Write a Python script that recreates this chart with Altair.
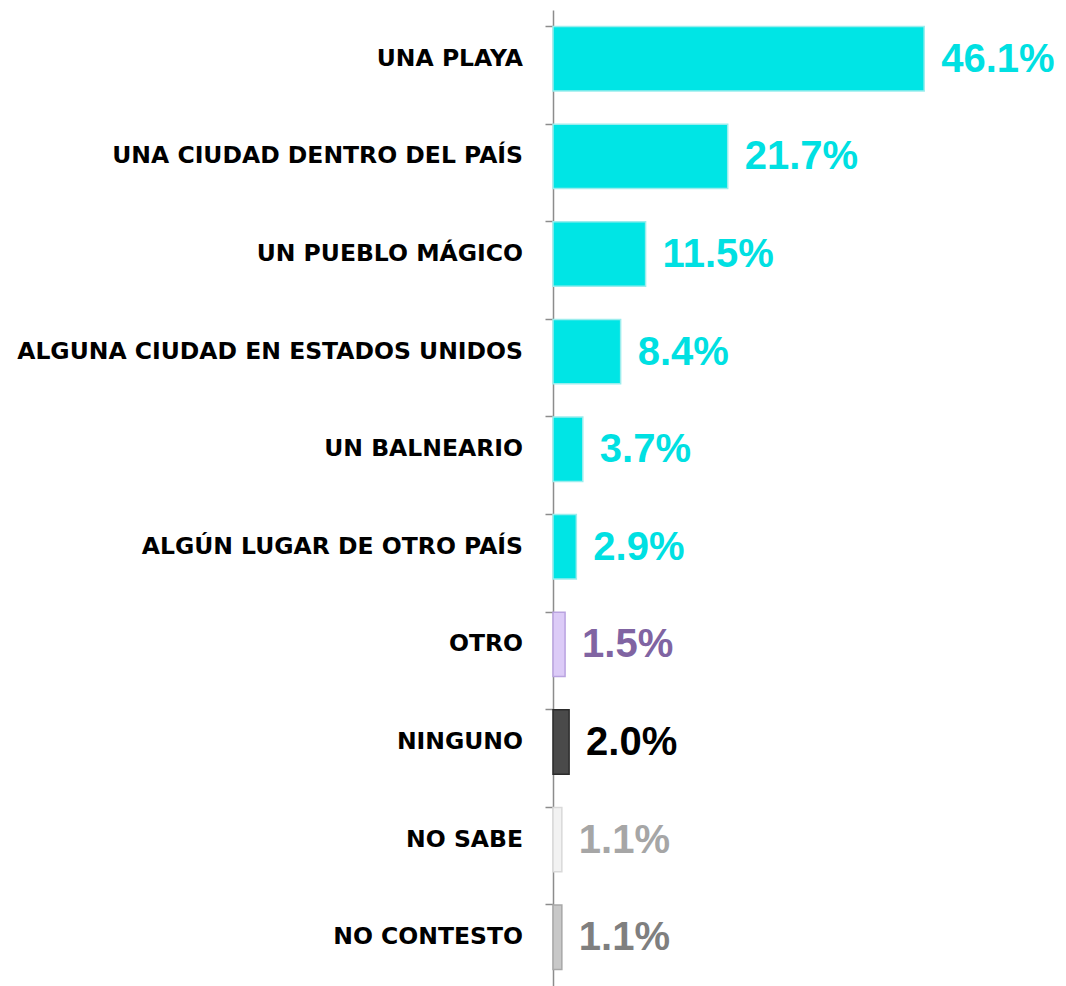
import altair as alt
import pandas as pd

categories = [
    "UNA PLAYA",
    "UNA CIUDAD DENTRO DEL PAÍS",
    "UN PUEBLO MÁGICO",
    "ALGUNA CIUDAD EN ESTADOS UNIDOS",
    "UN BALNEARIO",
    "ALGÚN LUGAR DE OTRO PAÍS",
    "OTRO",
    "NINGUNO",
    "NO SABE",
    "NO CONTESTO",
]
values = [46.1, 21.7, 11.5, 8.4, 3.7, 2.9, 1.5, 2.0, 1.1, 1.1]
labels = ["46.1%", "21.7%", "11.5%", "8.4%", "3.7%", "2.9%", "1.5%", "2.0%", "1.1%", "1.1%"]
bar_fill = ["#00E5E5"] * 6 + ["#DCCBF7", "#4A4A4A", "#F2F2F2", "#C8C8C8"]
bar_stroke = ["#9BEDED"] * 6 + ["#B9A3E0", "#2B2B2B", "#D9D9D9", "#A8A8A8"]
text_color = ["#00E0E2"] * 6 + ["#8064A2", "#000000", "#A6A6A6", "#7F7F7F"]

df = pd.DataFrame({
    "cat": categories,
    "val": values,
    "label": labels,
    "fill": bar_fill,
    "stroke": bar_stroke,
    "tcolor": text_color,
})

W, H = 500, 976

y_enc = alt.Y(
    "cat:N",
    sort=categories,
    scale=alt.Scale(paddingInner=0.34, paddingOuter=0.17),
    axis=alt.Axis(
        title=None,
        labels=False,
        bandPosition=0,
        tickSize=8,
        tickColor="#8C8C8C",
        domainColor="#8C8C8C",
        domainWidth=1.5,
        tickWidth=1.5,
    ),
)
x_enc = alt.X("val:Q", scale=alt.Scale(domain=[0, 62.1], nice=False, zero=True), axis=None)

base = alt.Chart(df)

bars = base.mark_bar(strokeWidth=1.5).encode(
    y=y_enc,
    x=x_enc,
    fill=alt.Fill("fill:N", scale=None),
    stroke=alt.Stroke("stroke:N", scale=None),
)

vals = base.mark_text(
    align="left", baseline="middle", dx=17, dy=1, fontSize=40, fontWeight="bold",
    font="Liberation Sans",
).encode(
    y=alt.Y("cat:N", sort=categories),
    x=x_enc,
    text="label:N",
    color=alt.Color("tcolor:N", scale=None),
)

cats = base.mark_text(
    align="right", baseline="middle", fontSize=23.5, fontWeight="bold",
    font="DejaVu Sans", color="#000000",
).encode(
    y=alt.Y("cat:N", sort=categories),
    x=alt.value(-30),
    text="cat:N",
)

chart = alt.layer(bars, vals, cats).properties(
    width=W,
    height=H,
    background="white",
    autosize=alt.AutoSizeParams(type="none"),
    padding={"left": 545, "top": 2, "right": 5, "bottom": 0},
).configure_view(strokeWidth=0, stroke="transparent")

chart.save("out.html", embed_options={"renderer": "svg", "actions": False})
